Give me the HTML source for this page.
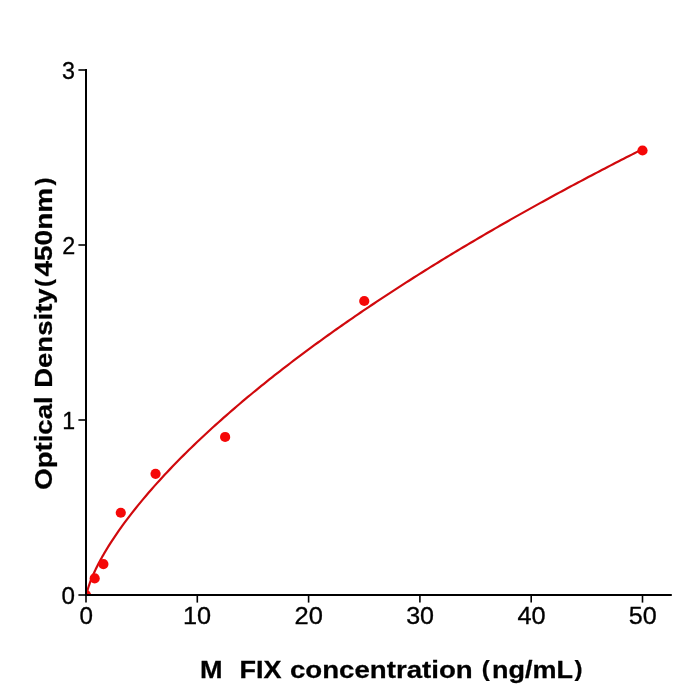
<!DOCTYPE html>
<html><head><meta charset="utf-8"><title>M FIX ELISA standard curve</title>
<style>
html,body{margin:0;padding:0;background:#fff;}
body{width:700px;height:700px;overflow:hidden;font-family:"Liberation Sans",sans-serif;}
svg{display:block;will-change:transform;}
text{font-family:"Liberation Sans",sans-serif;fill:#000;}
.tick{font-size:23.0px;stroke:#000;stroke-width:0.3px;}
.lab{font-size:23.335px;font-weight:bold;stroke:#000;stroke-width:0.25px;}
</style></head><body>
<svg width="700" height="700" viewBox="0 0 700 700">
<rect width="700" height="700" fill="#ffffff"/>
<defs><clipPath id="ax"><rect x="86" y="70" width="585" height="525"/></clipPath></defs>
<!-- fitted curve -->
<g clip-path="url(#ax)">
<path d="M86.00 597.95 L86.38 595.06 L86.75 593.23 L87.13 591.66 L87.51 590.25 L87.89 588.93 L88.26 587.69 L88.64 586.51 L89.02 585.37 L89.40 584.28 L89.77 583.23 L90.15 582.20 L90.53 581.20 L90.90 580.23 L91.28 579.28 L91.66 578.35 L92.04 577.44 L92.41 576.54 L92.79 575.66 L93.17 574.79 L93.55 573.94 L93.92 573.10 L94.30 572.28 L94.68 571.46 L95.05 570.65 L95.43 569.86 L95.81 569.07 L96.19 568.29 L96.56 567.53 L96.94 566.77 L97.32 566.01 L97.70 565.27 L98.07 564.53 L98.45 563.80 L98.83 563.08 L99.21 562.36 L99.58 561.65 L99.96 560.95 L100.34 560.25 L100.71 559.55 L101.09 558.86 L101.47 558.18 L101.85 557.50 L102.22 556.83 L102.60 556.16 L102.98 555.50 L103.36 554.84 L103.73 554.19 L104.11 553.54 L104.49 552.89 L104.86 552.25 L105.24 551.61 L105.62 550.98 L106.00 550.34 L106.37 549.72 L106.75 549.09 L107.13 548.47 L107.51 547.86 L107.88 547.25 L108.26 546.64 L110.94 542.38 L113.63 538.28 L116.31 534.29 L119.00 530.41 L121.68 526.64 L124.37 522.95 L127.05 519.34 L129.74 515.81 L132.42 512.35 L135.11 508.95 L137.79 505.61 L140.48 502.33 L143.16 499.10 L145.84 495.92 L148.53 492.78 L151.21 489.69 L153.90 486.64 L156.58 483.64 L159.27 480.67 L161.95 477.73 L164.64 474.83 L167.32 471.97 L170.01 469.13 L172.69 466.33 L175.38 463.56 L178.06 460.81 L180.74 458.09 L183.43 455.40 L186.11 452.74 L188.80 450.09 L191.48 447.48 L194.17 444.88 L196.85 442.31 L199.54 439.76 L202.22 437.23 L204.91 434.72 L207.59 432.23 L210.28 429.76 L212.96 427.31 L215.64 424.88 L218.33 422.46 L221.01 420.06 L223.70 417.68 L226.38 415.32 L229.07 412.97 L231.75 410.64 L234.44 408.32 L237.12 406.02 L239.81 403.74 L242.49 401.46 L245.18 399.21 L247.86 396.96 L250.55 394.73 L253.23 392.52 L255.91 390.31 L258.60 388.12 L261.28 385.94 L263.97 383.78 L266.65 381.62 L269.34 379.48 L272.02 377.35 L274.71 375.23 L277.39 373.12 L280.08 371.03 L282.76 368.94 L285.45 366.87 L288.13 364.80 L290.81 362.75 L293.50 360.71 L296.18 358.67 L298.87 356.65 L301.55 354.63 L304.24 352.63 L306.92 350.63 L309.61 348.65 L312.29 346.67 L314.98 344.70 L317.66 342.75 L320.35 340.80 L323.03 338.85 L325.71 336.92 L328.40 335.00 L331.08 333.08 L333.77 331.17 L336.45 329.27 L339.14 327.38 L341.82 325.50 L344.51 323.62 L347.19 321.75 L349.88 319.89 L352.56 318.04 L355.25 316.19 L357.93 314.36 L360.61 312.52 L363.30 310.70 L365.98 308.88 L368.67 307.07 L371.35 305.27 L374.04 303.47 L376.72 301.68 L379.41 299.90 L382.09 298.12 L384.78 296.35 L387.46 294.59 L390.15 292.83 L392.83 291.08 L395.51 289.33 L398.20 287.60 L400.88 285.86 L403.57 284.14 L406.25 282.42 L408.94 280.70 L411.62 278.99 L414.31 277.29 L416.99 275.59 L419.68 273.90 L422.36 272.21 L425.05 270.53 L427.73 268.86 L430.41 267.19 L433.10 265.52 L435.78 263.87 L438.47 262.21 L441.15 260.56 L443.84 258.92 L446.52 257.28 L449.21 255.65 L451.89 254.02 L454.58 252.40 L457.26 250.78 L459.95 249.17 L462.63 247.56 L465.31 245.96 L468.00 244.36 L470.68 242.77 L473.37 241.18 L476.05 239.59 L478.74 238.01 L481.42 236.44 L484.11 234.87 L486.79 233.30 L489.48 231.74 L492.16 230.18 L494.85 228.63 L497.53 227.08 L500.21 225.54 L502.90 224.00 L505.58 222.47 L508.27 220.94 L510.95 219.41 L513.64 217.89 L516.32 216.37 L519.01 214.85 L521.69 213.34 L524.38 211.84 L527.06 210.34 L529.75 208.84 L532.43 207.34 L535.12 205.85 L537.80 204.37 L540.48 202.88 L543.17 201.41 L545.85 199.93 L548.54 198.46 L551.22 196.99 L553.91 195.53 L556.59 194.07 L559.28 192.61 L561.96 191.16 L564.65 189.71 L567.33 188.27 L570.02 186.83 L572.70 185.39 L575.38 183.95 L578.07 182.52 L580.75 181.10 L583.44 179.67 L586.12 178.25 L588.81 176.83 L591.49 175.42 L594.18 174.01 L596.86 172.60 L599.55 171.20 L602.23 169.80 L604.92 168.40 L607.60 167.01 L610.28 165.62 L612.97 164.23 L615.65 162.85 L618.34 161.47 L621.02 160.09 L623.71 158.71 L626.39 157.34 L629.08 155.98 L631.76 154.61 L634.45 153.25 L637.13 151.89 L639.82 150.53 L642.50 149.18" fill="none" stroke="#d0090d" stroke-width="2.2" stroke-linejoin="round"/>
</g>
<!-- data points -->
<g fill="#f50808" clip-path="url(#ax)">
<circle cx="86.00" cy="595.00" r="5.1"/>
<circle cx="94.68" cy="578.38" r="5.1"/>
<circle cx="103.39" cy="564.10" r="5.1"/>
<circle cx="120.78" cy="512.75" r="5.1"/>
<circle cx="155.56" cy="473.81" r="5.1"/>
<circle cx="225.12" cy="436.98" r="5.1"/>
<circle cx="364.25" cy="301.00" r="5.1"/>
<circle cx="642.50" cy="150.50" r="5.1"/>
</g>
<!-- axes -->
<g stroke="#000" fill="none" stroke-linecap="square">
<line x1="86" y1="70" x2="86" y2="595" stroke-width="2"/>
<line x1="86" y1="595" x2="670.9" y2="595" stroke-width="1.8"/>
</g>
<g stroke="#000" stroke-width="1.6" fill="none">
<line x1="78.4" y1="595.00" x2="86" y2="595.00"/>
<line x1="78.4" y1="420.00" x2="86" y2="420.00"/>
<line x1="78.4" y1="245.00" x2="86" y2="245.00"/>
<line x1="78.4" y1="70.00" x2="86" y2="70.00"/>
<line x1="86.00" y1="595" x2="86.00" y2="602.6"/>
<line x1="197.30" y1="595" x2="197.30" y2="602.6"/>
<line x1="308.60" y1="595" x2="308.60" y2="602.6"/>
<line x1="419.90" y1="595" x2="419.90" y2="602.6"/>
<line x1="531.20" y1="595" x2="531.20" y2="602.6"/>
<line x1="642.50" y1="595" x2="642.50" y2="602.6"/>
</g>
<!-- tick labels -->
<g>
<text class="tick" transform="translate(61.46 603.70) scale(1.0541 1.0780)">0</text>
<text class="tick" transform="translate(62.25 428.70) scale(1.0068 1.0780)">1</text>
<text class="tick" transform="translate(62.18 253.70) scale(1.0161 1.0780)">2</text>
<text class="tick" transform="translate(62.07 78.70) scale(1.0124 1.0780)">3</text>
</g>
<g>
<text class="tick" transform="translate(79.46 623.60) scale(1.0541 1.0780)">0</text>
<text class="tick" transform="translate(182.97 623.60) scale(1.0994 1.0780)">10</text>
<text class="tick" transform="translate(294.49 623.60) scale(1.1074 1.0780)">20</text>
<text class="tick" transform="translate(406.15 623.60) scale(1.0915 1.0780)">30</text>
<text class="tick" transform="translate(517.51 623.60) scale(1.1018 1.0780)">40</text>
<text class="tick" transform="translate(628.71 623.60) scale(1.0926 1.0780)">50</text>
</g>
<!-- axis labels -->
<g>
<text class="lab" transform="translate(200.09 677.80) scale(1.1599 1.0535)">M</text>
<text class="lab" transform="translate(239.56 677.80) scale(1.1584 1.0535)">FIX</text>
<text class="lab" transform="translate(289.89 677.80) scale(1.1856 1.0535)">concentration</text>
<text class="lab" transform="translate(481.85 676.26) scale(1.0311 0.9499)">(</text>
<text class="lab" transform="translate(491.89 677.80) scale(1.1578 1.0535)">ng/mL</text>
<text class="lab" transform="translate(574.58 676.26) scale(1.0311 0.9499)">)</text>
</g>
<g transform="translate(52.4 488.5) rotate(-90)">
<text class="lab" transform="translate(-1.13 0.00) scale(1.1786 1.0535)">Optical</text>
<text class="lab" transform="translate(100.68 0.00) scale(1.1803 1.0535)">Density</text>
<text class="lab" transform="translate(201.40 -1.54) scale(1.0311 0.9499)">(</text>
<text class="lab" transform="translate(211.90 0.00) scale(1.2025 1.0535)">450nm</text>
<text class="lab" transform="translate(302.90 -1.54) scale(1.0311 0.9499)">)</text>
</g>
</svg>
</body></html>
